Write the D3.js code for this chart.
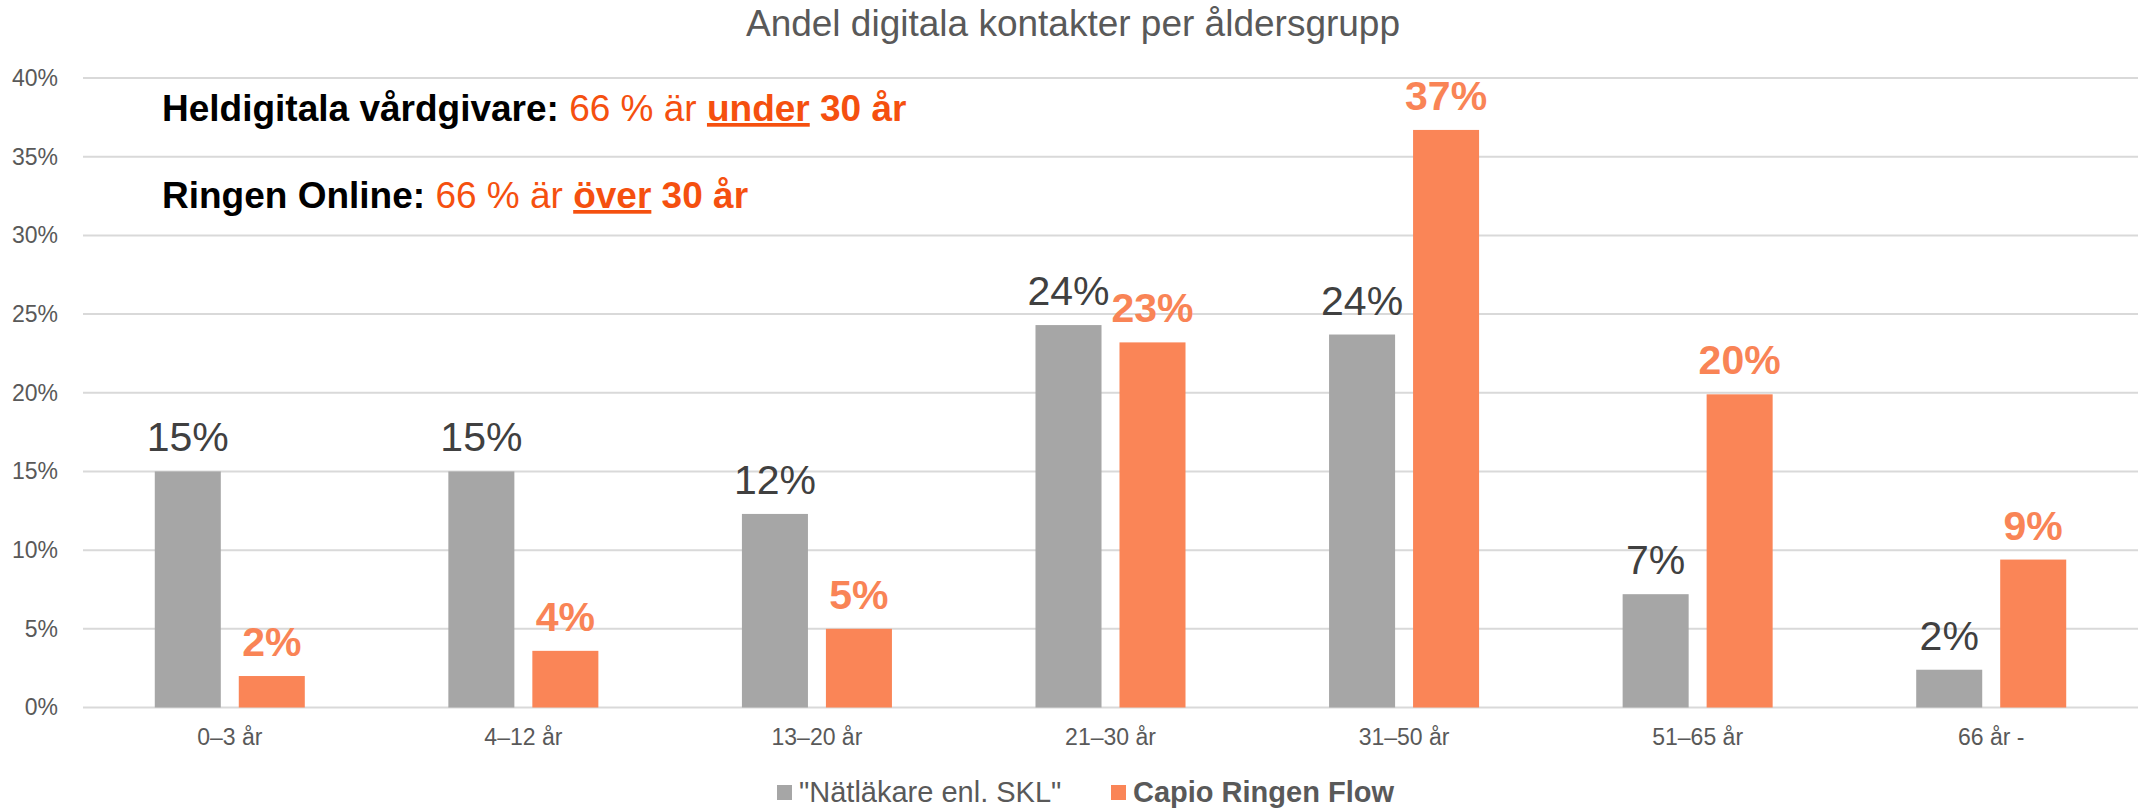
<!DOCTYPE html>
<html lang="sv">
<head>
  <meta charset="UTF-8">
  <title>Andel digitala kontakter per åldersgrupp</title>
  <script src="https://d3js.org/d3.v7.min.js"></script>
  <style>
    body { margin: 0; background: #fff; }
    text { font-family: "Liberation Sans", Arial, sans-serif; }
  </style>
</head>
<body>
  <svg width="2146" height="808"></svg>
  <script>
  const categories = ["0–3 år", "4–12 år", "13–20 år", "21–30 år", "31–50 år", "51–65 år", "66 år -"];
  const natlakare = [0.150, 0.150, 0.123, 0.243, 0.237, 0.072, 0.024];
  const capio = [0.020, 0.036, 0.050, 0.232, 0.367, 0.199, 0.094];
  const seriesNames = ["\"Nätläkare enl. SKL\"", "Capio Ringen Flow"];
  const yTicks = [0, 0.05, 0.10, 0.15, 0.20, 0.25, 0.30, 0.35, 0.40];

  const width = 2146, height = 808;
  const plot = { left: 83, right: 2138, top: 78, bottom: 707.5 };
  const colors = ["#a6a6a6", "#fa8557"];
  const labelColors = ["#404040", "#f98456"];

  const svg = d3.select("svg");

  const x0 = d3.scaleBand()
    .domain(categories)
    .range([plot.left, plot.right])
    .paddingInner(0.489)
    .paddingOuter(0.2445);

  const x1 = d3.scaleBand()
    .domain([0, 1])
    .range([0, x0.bandwidth()])
    .paddingInner(0.214);

  const y = d3.scaleLinear().domain([0, 0.4]).range([plot.bottom, plot.top]);

  // gridlines
  svg.append("g")
    .selectAll("line")
    .data(yTicks)
    .join("line")
    .attr("x1", plot.left)
    .attr("x2", plot.right)
    .attr("y1", d => y(d))
    .attr("y2", d => y(d))
    .attr("stroke", "#d9d9d9")
    .attr("stroke-width", 2);

  // y axis labels
  const yAxis = svg.append("g")
    .attr("transform", `translate(${plot.left - 22},0)`)
    .call(d3.axisLeft(y).tickValues(yTicks).tickFormat(d3.format(".0%")).tickSize(0));
  yAxis.select(".domain").remove();
  yAxis.selectAll("text")
    .attr("font-size", "23px")
    .attr("fill", "#595959")
    .attr("font-family", "Liberation Sans, Arial, sans-serif");

  // x axis labels
  const xAxis = svg.append("g")
    .attr("transform", `translate(0,${plot.bottom})`)
    .call(d3.axisBottom(x0).tickSize(0).tickPadding(21));
  xAxis.select(".domain").remove();
  xAxis.selectAll("text")
    .attr("font-size", "23px")
    .attr("fill", "#595959")
    .attr("font-family", "Liberation Sans, Arial, sans-serif");

  const rows = categories.map((c, i) => ({ cat: c, vals: [natlakare[i], capio[i]] }));

  const groups = svg.append("g")
    .selectAll("g")
    .data(rows)
    .join("g")
    .attr("transform", d => `translate(${x0(d.cat)},0)`);

  groups.selectAll("rect")
    .data(d => d.vals.map((v, s) => ({ v, s })))
    .join("rect")
    .attr("x", d => x1(d.s))
    .attr("y", d => y(d.v))
    .attr("width", x1.bandwidth())
    .attr("height", d => y(0) - y(d.v))
    .attr("fill", d => colors[d.s]);

  groups.selectAll("text")
    .data(d => d.vals.map((v, s) => ({ v, s })))
    .join("text")
    .attr("x", d => x1(d.s) + x1.bandwidth() / 2)
    .attr("y", d => y(d.v) - 20)
    .attr("text-anchor", "middle")
    .attr("font-size", "41px")
    .attr("font-weight", d => d.s === 1 ? "bold" : "normal")
    .attr("fill", d => labelColors[d.s])
    .text(d => Math.round(d.v * 100) + "%");

  // title
  svg.append("text")
    .attr("x", width / 2)
    .attr("y", 36)
    .attr("text-anchor", "middle")
    .attr("font-size", "37px")
    .attr("fill", "#595959")
    .text("Andel digitala kontakter per åldersgrupp");

  // annotation
  const notes = [
    { y: 121, lead: "Heldigitala vårdgivare: ", key: "under" },
    { y: 208, lead: "Ringen Online: ", key: "över" }
  ];
  notes.forEach(n => {
    const t = svg.append("text")
      .attr("x", 162)
      .attr("y", n.y)
      .attr("font-size", "37px");
    t.append("tspan").attr("font-weight", "bold").attr("fill", "#000").text(n.lead);
    t.append("tspan").attr("fill", "#f5500f").text("66 % är ");
    t.append("tspan").attr("font-weight", "bold").attr("fill", "#f5500f")
      .attr("text-decoration", "underline").text(n.key);
    t.append("tspan").attr("font-weight", "bold").attr("fill", "#f5500f").text(" 30 år");
  });

  // legend
  const legendItems = [
    { x: 777, name: seriesNames[0], bold: false },
    { x: 1111, name: seriesNames[1], bold: true }
  ];
  const legend = svg.append("g");
  legend.selectAll("rect")
    .data(legendItems)
    .join("rect")
    .attr("x", d => d.x)
    .attr("y", 785)
    .attr("width", 15)
    .attr("height", 15)
    .attr("fill", (d, i) => colors[i]);
  legend.selectAll("text")
    .data(legendItems)
    .join("text")
    .attr("x", d => d.x + 22)
    .attr("y", 802)
    .attr("font-size", "29px")
    .attr("font-weight", d => d.bold ? "bold" : "normal")
    .attr("fill", "#595959")
    .text(d => d.name);
  </script>
</body>
</html>
